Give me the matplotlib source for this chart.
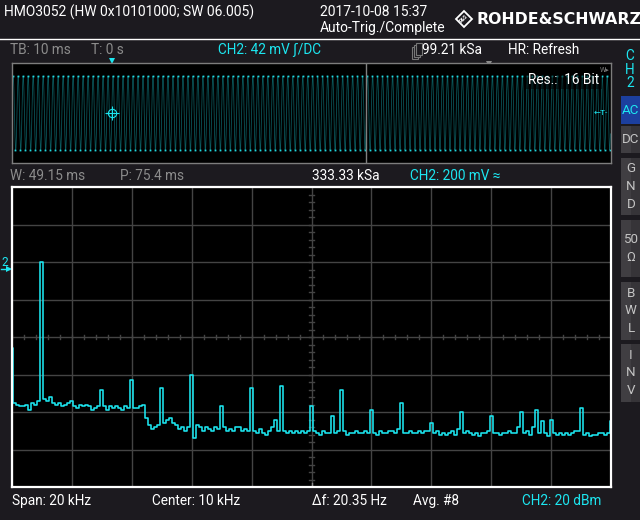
import numpy as np
import matplotlib
matplotlib.use("Agg")
import matplotlib.pyplot as plt
from matplotlib.patches import Rectangle, Polygon

plt.rcParams['font.family'] = ['Roboto', 'DejaVu Sans']

# ---- spectrum (CH2 FFT), 0..20 kHz, dBm ----
span_khz = 20
spectrum_dbm = [
    -66, -95, -96, -97, -97, -96, -99, -95, -96, -94,
    -20, -93, -94, -92, -95, -96, -95, -97, -96, -95,
    -94, -97, -98, -96, -97, -96, -97, -99, -98, -97,
    -88, -97, -99, -97, -98, -97, -98, -99, -97, -98,
    -83, -98, -98, -97, -96, -103, -107, -109, -108, -107,
    -87, -106, -104, -103, -106, -107, -109, -108, -110, -108,
    -80, -114, -107, -108, -110, -108, -109, -110, -108, -109,
    -97, -108, -110, -109, -110, -108, -108, -110, -109, -110,
    -87, -110, -111, -109, -111, -112, -110, -108, -104, -110,
    -86, -110, -111, -110, -111, -110, -111, -110, -111, -110,
    -97, -110, -111, -112, -110, -111, -111, -102, -111, -110,
    -88, -110, -112, -111, -111, -110, -111, -111, -110, -111,
    -99, -111, -112, -110, -111, -111, -110, -110, -111, -109,
    -95, -111, -111, -110, -111, -111, -110, -111, -110, -110,
    -106, -111, -110, -112, -111, -112, -111, -110, -112, -109,
    -100, -111, -110, -111, -112, -111, -113, -111, -111, -110,
    -102, -111, -111, -112, -111, -111, -110, -111, -111, -108,
    -100, -111, -110, -112, -108, -99, -111, -105, -111, -113,
    -104, -111, -112, -111, -112, -111, -112, -111, -110, -110,
    -98, -112, -111, -113, -112, -112, -111, -111, -112, -111,
    -105,
]
db_top, db_per_div = 20, 20

# ---- time overview (1 kHz sine, 10 ms/div, 12 div) ----
one_period_mv = [0, 77, 124, 118, 70, 0, -77, -124, -118, -70]
n_periods = 120
t_start_ms, t_span_ms = -20, 120
mv_per_div = 42
zoom_pos_ms, zoom_width_ms = 75.4, 49.15

bg_col = '#1c1a1f'
cyan = '#1ce6f0'
grid_col = '#444444'
grey_txt = '#8c8c8c'

fig = plt.figure(figsize=(6.4, 5.2), dpi=100, facecolor=bg_col)
bg = fig.add_axes([0, 0, 1, 1])
bg.set_xlim(0, 640)
bg.set_ylim(520, 0)
bg.axis('off')


def ax_rect(x0, y0, x1, y1):
    return [x0 / 640, 1 - y1 / 520, (x1 - x0) / 640, (y1 - y0) / 520]


def txt(x, y, s, col='white', size=9.8, **kw):
    bg.text(x, y, s, color=col, fontsize=size, ha='left', va='center', **kw)


# header
txt(4, 12, 'HMO3052 (HW 0x10101000; SW 06.005)', size=10)
txt(320, 12, '2017-10-08 15:37', size=10)
txt(320, 28, 'Auto-Trig./Complete', size=10)
bg.add_patch(Polygon([[464, 11], [472, 19], [464, 27], [456, 19]], closed=True,
                     fill=False, ec='white', lw=1.3))
bg.text(464, 19, 'R&S', color='white', fontsize=3.5, ha='center', va='center',
        rotation=45, fontweight='bold')
bg.text(476, 19, 'ROHDE&SCHWARZ', color='white', fontsize=11.3, ha='left',
        va='center', fontweight='bold', family='DejaVu Sans')
bg.plot([0, 640], [38.5, 38.5], color='white', lw=1)

# row above overview
txt(10, 50, 'TB: 10 ms', grey_txt)
txt(91, 50, 'T: 0 s', grey_txt)
txt(218, 50, 'CH2: 42 mV \u0283/DC', cyan)
for k in range(3):
    bg.add_patch(Rectangle((412 + 2 * k, 43 + 2 * (2 - k)), 6, 12, fill=True,
                           fc=bg_col, ec='#777777', lw=0.8))
txt(422, 50, '99.21 kSa')
txt(508, 50, 'HR: Refresh')

# side panel
for i, ch in enumerate('CH2'):
    bg.text(630, 56 + 13.5 * i, ch, color=cyan, fontsize=9.8, ha='center', va='center')
buttons = [(96, 124, 'AC'), (126, 153, 'DC'), (158, 215, 'G\nN\nD'),
           (220, 277, '50\n\u03a9'), (282, 340, 'B\nW\nL'), (344, 402, 'I\nN\nV')]
for y0, y1, lab in buttons:
    fc = '#1c3f9e' if lab == 'AC' else '#403e42'
    tc = cyan if lab == 'AC' else '#c4c4c4'
    bg.add_patch(Rectangle((621, y0), 20, y1 - y0, fc=fc, ec='none'))
    if lab != 'AC':
        bg.add_patch(Rectangle((631, y0), 10, y1 - y0, fc='#363438', ec='none'))
    bg.text(631, (y0 + y1) / 2, lab, color=tc, fontsize=9.6, ha='center',
            va='center', linespacing=1.45)

# overview axes
ov = fig.add_axes(ax_rect(12, 63, 611, 163), facecolor='black')
wave = np.tile(one_period_mv, n_periods)
t = t_start_ms + np.arange(len(wave)) * t_span_ms / len(wave)
ov.plot(t, wave, color='#0b5a5e', lw=0.55)
pk = np.abs(wave) == max(one_period_mv)
ov.plot(t[pk], wave[pk], ls='none', marker='s', ms=1.3, color='#22d8e0', mew=0)
ov.axvline(zoom_pos_ms - zoom_width_ms / 2, color='#808080', lw=1)
ov.plot([0], [0], marker='+', ms=10, color=cyan, mew=0.8)
ov.plot([0], [0], marker='o', ms=6, mfc='none', color=cyan, mew=0.8)
ov.set_xlim(t_start_ms, t_start_ms + t_span_ms)
ov.set_ylim(-4 * mv_per_div, 4 * mv_per_div)
ov.set_xticks([])
ov.set_yticks([])
for s in ov.spines.values():
    s.set_color('#7d7d7d')
    s.set_linewidth(1)
ov.text(0.862, 0.83, 'Res.:  16 Bit', transform=ov.transAxes, color='white',
        fontsize=9.8, ha='left', va='center',
        bbox=dict(fc='black', ec='none', alpha=0.55, pad=1.5))
ov.text(0.995, 0.5, '\u2190T-', transform=ov.transAxes, color=cyan,
        fontsize=6, ha='right', va='center')
ov.text(0.997, 0.93, 'W\u25b8', transform=ov.transAxes, color='#777777',
        fontsize=5, ha='right', va='center')
# trigger and position markers
bg.plot([112], [61], marker='v', ms=5, color=cyan, mew=0)
bg.plot([489], [64], marker='v', ms=4, color='#8c8c8c', mew=0)

# row between
txt(10, 176, 'W: 49.15 ms', grey_txt)
txt(120, 176, 'P: 75.4 ms', grey_txt)
txt(312, 176, '333.33 kSa')
txt(410, 176, 'CH2: 200 mV \u2248', cyan)

# spectrum axes
ax = fig.add_axes(ax_rect(12, 187, 611, 487), facecolor='black')
freq = np.linspace(0, span_khz, len(spectrum_dbm))
db_bot = db_top - 8 * db_per_div
ax.set_xlim(0, span_khz)
ax.set_ylim(db_bot, db_top)
ax.set_xticks(np.arange(0, span_khz + 1, span_khz / 10))
ax.set_yticks(np.arange(db_bot, db_top + 1, db_per_div))
ax.grid(color=grid_col, lw=1)
ax.tick_params(length=0, labelbottom=False, labelleft=False)
xc, yc = span_khz / 2, db_top - 4 * db_per_div
for f in np.arange(0, span_khz, span_khz / 50):
    ax.plot([f, f], [yc - 1.1, yc + 1.1], color=grid_col, lw=1)
for d in np.arange(db_bot, db_top, db_per_div / 5):
    ax.plot([xc - 0.07, xc + 0.07], [d, d], color=grid_col, lw=1)
ax.plot([xc, xc], [db_bot, db_bot + 2], color='#888888', lw=1)
ax.plot(freq, spectrum_dbm, color=cyan, lw=1.15, drawstyle='steps-mid')
for s in ax.spines.values():
    s.set_color('white')
    s.set_linewidth(1.6)

# reference marker
txt(1.5, 262, '2', cyan, size=8.5)
bg.plot([1, 9], [269, 269], color=cyan, lw=1)
bg.plot([9], [269], marker='>', ms=4, color=cyan, mew=0)

# footer
txt(12, 501, 'Span: 20 kHz')
txt(152, 501, 'Center: 10 kHz')
txt(312, 501, '\u0394f: 20.35 Hz')
txt(413, 501, 'Avg. #8')
txt(522, 501, 'CH2: 20 dBm', cyan)

fig.savefig('out.png', dpi=100, facecolor=bg_col)
